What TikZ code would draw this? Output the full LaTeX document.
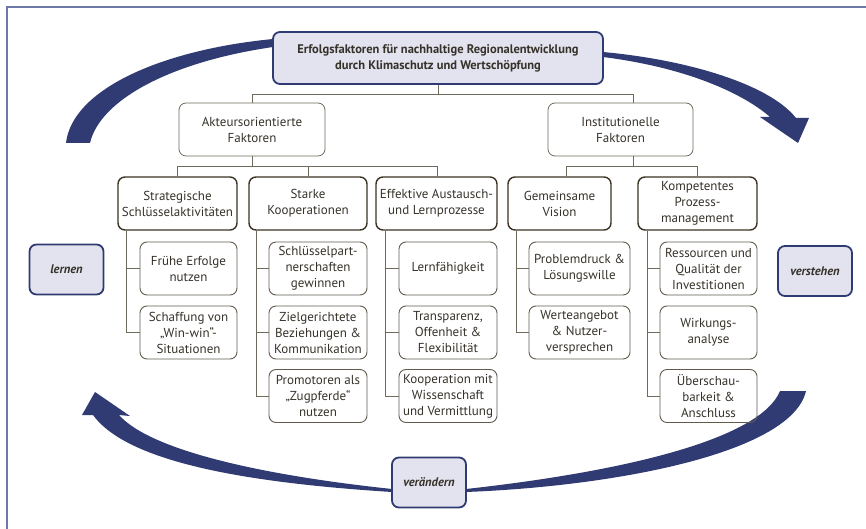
\documentclass[tikz,border=0pt]{standalone}
\usepackage{fontspec}
\setmainfont{PT Sans}
\usetikzlibrary{positioning, calc}
\definecolor{navy}{HTML}{2F3B72}
\definecolor{lilac}{HTML}{E3E3EF}
\definecolor{framecol}{HTML}{6E78A8}
\definecolor{linegrey}{HTML}{6E6A5C}
\definecolor{darkbrown}{HTML}{3A3222}
\definecolor{txt}{HTML}{36322A}
\begin{document}
\begin{tikzpicture}[x=1pt, y=-1pt,
		every node/.style={text=txt, font=\fontsize{13}{16}\selectfont, align=center, inner sep=1pt},
		mainbox/.style={draw=navy, line width=1.8pt, fill=lilac, rounded corners=7pt, minimum height=52pt},
		cyclebox/.style={mainbox, minimum width=74pt, minimum height=50pt, font=\fontsize{12.5}{16}\selectfont\bfseries\itshape},
		groupbox/.style={draw=linegrey, line width=0.8pt, rounded corners=7pt, minimum height=53pt},
		factorbox/.style={draw=darkbrown, line width=1.4pt, rounded corners=7pt, minimum height=53pt},
		itembox/.style={draw=darkbrown!80, line width=0.9pt, rounded corners=7pt, minimum height=53pt},
		link/.style={draw=linegrey, line width=1pt},
		band/.style={fill=navy, draw=none}]
	\useasboundingbox (0,0) rectangle (866,529);
	\draw[draw=framecol, line width=1.5pt] (7,529) -- (7,7) -- (866,7);
	% kreislauf
	\fill[band] (273,39) .. controls (160,50) and (72,90) .. (66,143) -- (90,143) .. controls (100,100) and (170,62) .. (273,47) -- cycle;
	\fill[band] (603,52) .. controls (690,60) and (770,85) .. (796,118) -- (809,118) -- (798,143) -- (760,117) -- (770,117) .. controls (745,95) and (690,68) .. (603,57) -- cycle;
	\fill[band] (466,492) .. controls (620,486) and (792,452) .. (806,391) -- (780,391) .. controls (760,440) and (620,472) .. (466,489) -- cycle;
	\fill[band] (392,492) .. controls (250,483) and (128,463) .. (93,415) -- (82,415) -- (95,392) -- (130,416) -- (119,415) .. controls (150,450) and (260,475) .. (392,489) -- cycle;
	% knoten
	\node[mainbox, minimum width=330pt, font=\fontsize{12.5}{16}\selectfont\bfseries] (top) at (438,58) {Erfolgsfaktoren für nachhaltige Regionalentwicklung\\durch Klimaschutz und Wertschöpfung};
	\node[groupbox, minimum width=146pt] (akteur) at (252,129.5) {Akteursorientierte\\Faktoren};
	\node[groupbox, minimum width=145pt] (inst) at (620.5,129.5) {Institutionelle\\Faktoren};
	\node[factorbox, minimum width=119pt] (strat) at (177.5,203.5) {Strategische\\Schlüsselaktivitäten};
	\node[factorbox, minimum width=118pt] (starke) at (308,203.5) {Starke\\Kooperationen};
	\node[factorbox, minimum width=121pt] (eff) at (436.5,203.5) {Effektive Austausch-\\und Lernprozesse};
	\node[factorbox, minimum width=103pt] (gem) at (559.5,203.5) {Gemeinsame\\Vision};
	\node[factorbox, minimum width=119pt] (komp) at (697.5,203.5) {Kompetentes\\Prozess-\\management};
	\node[itembox, minimum width=97pt] (frueh) at (188.5,268.5) {Frühe Erfolge\\nutzen};
	\node[itembox, minimum width=97pt] (win) at (188.5,332.5) {Schaffung von\\„Win-win“-\\Situationen};
	\node[itembox, minimum width=98pt] (partner) at (318,268.5) {Schlüsselpart-\\nerschaften\\gewinnen};
	\node[itembox, minimum width=98pt] (ziel) at (318,332.5) {Zielgerichtete\\Beziehungen \&\\Kommunikation};
	\node[itembox, minimum width=98pt] (promo) at (318,396) {Promotoren als\\„Zugpferde“\\nutzen};
	\node[itembox, minimum width=98pt] (lern) at (448,268.5) {Lernfähigkeit};
	\node[itembox, minimum width=98pt] (transp) at (448,332.5) {Transparenz,\\Offenheit \&\\Flexibilität};
	\node[itembox, minimum width=98pt] (wiss) at (448,396) {Kooperation mit\\Wissenschaft\\und Vermittlung};
	\node[itembox, minimum width=101pt] (problem) at (579.5,268.5) {Problemdruck \&\\Lösungswille};
	\node[itembox, minimum width=101pt] (wert) at (579.5,332.5) {Werteangebot\\\& Nutzer-\\versprechen};
	\node[itembox, minimum width=97pt] (ress) at (708.5,268.5) {Ressourcen und\\Qualität der\\Investitionen};
	\node[itembox, minimum width=97pt] (wirk) at (708.5,332.5) {Wirkungs-\\analyse};
	\node[itembox, minimum width=97pt] (ueber) at (708.5,396) {Überschau-\\barkeit \&\\Anschluss};
	\node[cyclebox] (lernen) at (66.5,269.5) {lernen};
	\node[cyclebox] (verstehen) at (815,271) {verstehen};
	\node[cyclebox] (veraendern) at (429,482.5) {verändern};
	% verbindungen
	\draw[link] (top.south) -- ++(0,10) coordinate (bus1);
	\draw[link] (akteur.north) |- (bus1) -| ([xshift=12.5pt]inst.north);
	\draw[link] (akteur.south) -- ++(0,10) coordinate (bus2);
	\draw[link] (strat.north) |- (bus2) -| ([xshift=1pt]eff.north);
	\draw[link] (starke.north) -- (starke.north |- bus2);
	\draw[link] ([xshift=12.5pt]inst.south) -- ++(0,10) coordinate (bus3);
	\draw[link] ([xshift=7pt]gem.north) |- (bus3) -| (komp.north);
	\draw[link] ([xshift=9pt]strat.south west) |- (frueh.west);
	\draw[link] ([xshift=9pt]strat.south west) |- (win.west);
	\draw[link] ([xshift=8pt]starke.south west) |- (partner.west);
	\draw[link] ([xshift=8pt]starke.south west) |- (ziel.west);
	\draw[link] ([xshift=8pt]starke.south west) |- (promo.west);
	\draw[link] ([xshift=10pt]eff.south west) |- (lern.west);
	\draw[link] ([xshift=10pt]eff.south west) |- (transp.west);
	\draw[link] ([xshift=10pt]eff.south west) |- (wiss.west);
	\draw[link] ([xshift=9pt]gem.south west) |- (problem.west);
	\draw[link] ([xshift=9pt]gem.south west) |- (wert.west);
	\draw[link] ([xshift=10pt]komp.south west) |- (ress.west);
	\draw[link] ([xshift=10pt]komp.south west) |- (wirk.west);
	\draw[link] ([xshift=10pt]komp.south west) |- (ueber.west);
\end{tikzpicture}
\end{document}
